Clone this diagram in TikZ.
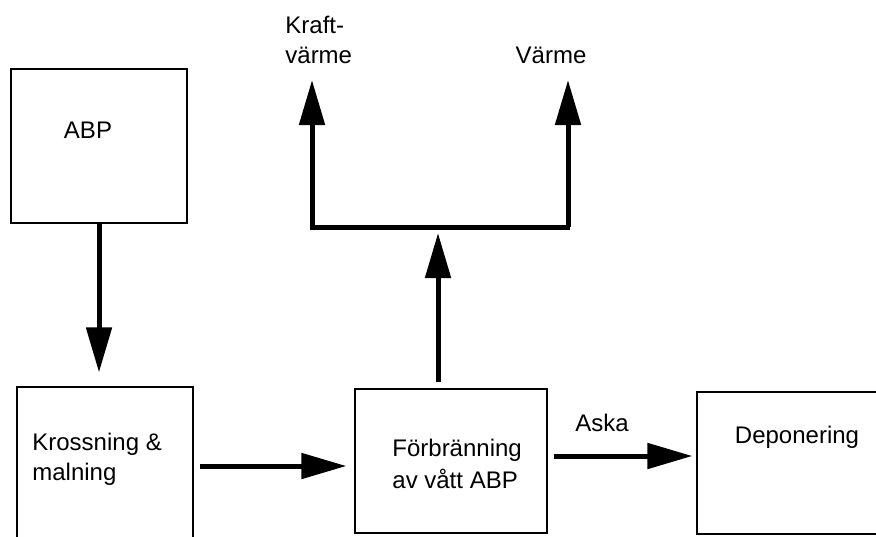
\documentclass[tikz,border=0pt]{standalone}
\usepackage{fontspec}
\setmainfont{Liberation Sans}
\usetikzlibrary{arrows.meta}

\begin{document}
\begin{tikzpicture}[x=0.5pt, y=-0.5pt,
    every node/.style={font=\fontsize{12}{15}\selectfont, inner sep=0pt}]
    \useasboundingbox (0,0) rectangle (876,536);
    \clip (0,0) rectangle (876,536);

    \begin{scope}[every node/.style={rectangle, draw, line width=0.6pt, inner sep=0pt}]
        \node (abp) at (99,146) [minimum width=88pt, minimum height=77pt] {};
        \node (kross) at (105,466) [minimum width=88pt, minimum height=79pt] {};
        \node (forb) at (451,461) [minimum width=96pt, minimum height=72pt] {};
        \node (dep) at (798.5,463) [minimum width=101.5pt, minimum height=71pt] {};
    \end{scope}

    \node (abptext) at (88,130) {ABP};
    \node (krosstext) at (32,459) [anchor=west, align=left] {Krossning \&\\malning};
    \node (forbtext) at (392,464) [anchor=west, align=left, font=\fontsize{12}{16}\selectfont] {Förbränning\\av vått ABP};
    \node (deptext) at (797,437) {Deponering};
    \node (aska) at (602,423) {Aska};
    \node (kraft) at (285,40) [anchor=west, align=left] {Kraft-\\värme};
    \node (varme) at (551,55) {Värme};

    \coordinate (split) at (438,227);
    \coordinate (barl) at (312,227);
    \coordinate (barr) at (568,227);
    \coordinate (kraftin) at (312,80);
    \coordinate (varmein) at (568,80);

    \begin{scope}[every edge/.style={draw, line width=2.5pt},
        arr/.style={-{Triangle[length=22.5pt, width=12.5pt]}}]
        \path [arr, shorten >=7pt] (abp.south) edge (abp.south |- kross.north);
        \path [arr, shorten <=3pt, shorten >=4pt] (kross.east) edge (forb.west |- kross.east);
        \path [arr, shorten <=3pt, shorten >=3pt] ([xshift=-6.5pt]forb.north) edge (split);
        \path [arr, shorten <=3pt, shorten >=2pt] ([yshift=2.5pt]forb.east) edge ([yshift=3.5pt]dep.west);
        \path [-] ([xshift=-1.2pt]barl) edge ([xshift=1.2pt]barr);
        \path [arr] (barl) edge (kraftin);
        \path [arr] (barr) edge (varmein);
    \end{scope}
\end{tikzpicture}
\end{document}
